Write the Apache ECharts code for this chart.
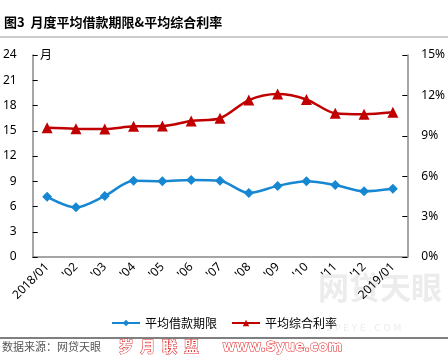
<!DOCTYPE html>
<html><head><meta charset="utf-8">
<script src="https://cdn.jsdelivr.net/npm/echarts@6/dist/echarts.min.js"></script>
<style>html,body{margin:0;padding:0;background:#fff}#c{width:448px;height:357px}</style>
</head><body><div id="c"></div>
<script>
const categories = ["2018/01","'02","'03","'04","'05","'06","'07","'08","'09","'10","'11","'12","2019/01"];
const termMonths = [7.15, 5.9, 7.25, 9.05, 9.0, 9.15, 9.05, 7.6, 8.45, 9.0, 8.55, 7.8, 8.1];
const rateValues = [9.6, 9.53, 9.5, 9.7, 9.72, 10.1, 10.3, 11.65, 12.1, 11.7, 10.67, 10.6, 10.74];
const leftTicks = {min: 0, max: 24, interval: 3};
const rightTicks = {min: 0, max: 15, interval: 3};
const seriesNames = ["平均借款期限", "平均综合利率"];

const chart = echarts.init(document.getElementById('c'));
const cjk = '"Noto Sans CJK SC", "Noto Sans", sans-serif';
chart.setOption({
  animation: false,
  backgroundColor: '#fff',
  textStyle: {fontFamily: cjk},
  grid: {left: 32, right: 40, top: 55, bottom: 100, containLabel: false},
  graphic: [
    {type: 'text', left: 4, top: 16, style: {text: '图3  月度平均借款期限&平均综合利率', font: 'bold 13px ' + cjk, fill: '#000'}},
    {type: 'line', shape: {x1: 0, y1: 37, x2: 448, y2: 37}, style: {stroke: '#999', lineWidth: 1}},
    {type: 'text', left: 40, top: 48, style: {text: '月', font: '12px ' + cjk, fill: '#000'}},
    {type: 'text', left: 318, top: 272, z: -1, style: {text: '网贷天眼', font: 'bold 31px ' + cjk, fill: '#ececec'}},
    {type: 'text', left: 318, top: 324, z: -1, style: {text: 'P 2 P E Y E . C O M', font: '9px "DejaVu Sans", sans-serif', fill: '#ececec'}},
    {type: 'line', shape: {x1: 0, y1: 338, x2: 448, y2: 338}, style: {stroke: '#000', lineWidth: 1}},
    {type: 'text', left: 2, top: 341, style: {text: '数据来源：网贷天眼', font: '11px ' + cjk, fill: '#555'}},
    {type: 'text', left: 118, top: 338, style: {text: '岁  月  联  盟', font: 'bold 15px ' + cjk, fill: '#fff', stroke: '#e02020', lineWidth: 1}},
    {type: 'text', left: 222, top: 340, style: {text: 'www.Syue.com', font: 'bold 14px "DejaVu Sans", sans-serif', fill: '#fff', stroke: '#e02020', lineWidth: 1}}
  ],
  legend: {
    top: 312, left: 'center', itemWidth: 28, itemHeight: 8, itemGap: 14,
    textStyle: {fontSize: 12, color: '#000', fontFamily: cjk},
    data: seriesNames
  },
  xAxis: {
    type: 'category', data: categories, boundaryGap: true,
    axisLine: {lineStyle: {color: '#888', width: 1.5}},
    axisTick: {show: false},
    axisLabel: {rotate: 45, interval: 0, color: '#000', fontSize: 12, fontFamily: '"Noto Sans", sans-serif', margin: 8}
  },
  yAxis: [
    {type: 'value', min: leftTicks.min, max: leftTicks.max, interval: leftTicks.interval,
     axisLine: {show: true, lineStyle: {color: '#888', width: 1.5}},
     axisTick: {show: true, inside: true, length: 5, lineStyle: {color: '#000'}},
     splitLine: {show: false},
     axisLabel: {color: '#000', fontSize: 12, margin: 16, fontFamily: '"Noto Sans", sans-serif'}},
    {type: 'value', min: rightTicks.min, max: rightTicks.max, interval: rightTicks.interval, position: 'right',
     axisLine: {show: true, lineStyle: {color: '#888', width: 1.5}},
     axisTick: {show: true, inside: true, length: 5, lineStyle: {color: '#000'}},
     splitLine: {show: false},
     axisLabel: {color: '#000', fontSize: 12, margin: 14, formatter: '{value}%', fontFamily: '"Noto Sans", sans-serif'}}
  ],
  series: [
    {name: seriesNames[0], type: 'line', yAxisIndex: 0, data: termMonths, smooth: 0.3,
     symbol: 'diamond', symbolSize: 10, color: '#1787D2',
     lineStyle: {width: 2.5, color: '#1787D2'}, itemStyle: {color: '#1787D2'}},
    {name: seriesNames[1], type: 'line', yAxisIndex: 1, data: rateValues, smooth: 0.3,
     symbol: 'triangle', symbolSize: 11, color: '#C00000',
     lineStyle: {width: 2.5, color: '#C00000'}, itemStyle: {color: '#C00000'}}
  ]
});
</script>
</body></html>
